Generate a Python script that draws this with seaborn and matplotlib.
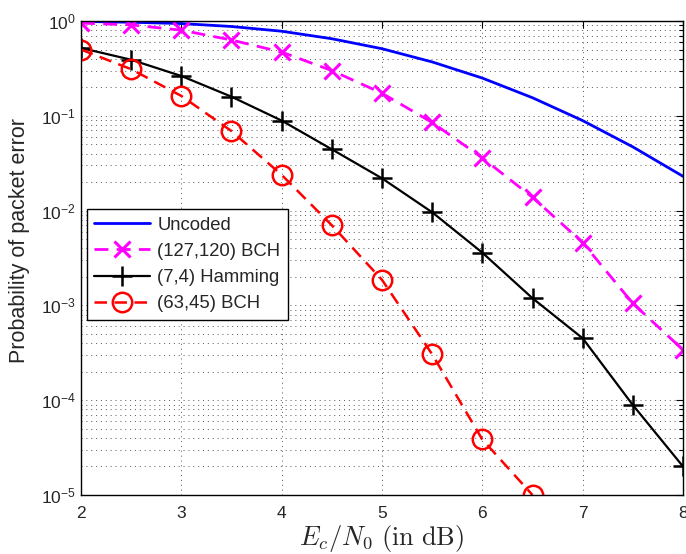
import numpy as np
import pandas as pd
import matplotlib
matplotlib.use("Agg")
import matplotlib.pyplot as plt
import matplotlib.ticker as mticker
import seaborn as sns

# ---- data ----
ebn0 = [2.0, 2.5, 3.0, 3.5, 4.0, 4.5, 5.0, 5.5, 6.0, 6.5, 7.0, 7.5, 8.0]
uncoded = [0.99, 0.97, 0.94, 0.875, 0.78, 0.65, 0.51, 0.37, 0.25, 0.155, 0.089, 0.047, 0.023]
bch127 = [0.95, 0.91, 0.80, 0.63, 0.47, 0.30, 0.173, 0.085, 0.036, 0.0138, 0.0046, 0.00105, 0.00034]
hamming = [0.52, 0.39, 0.263, 0.159, 0.089, 0.0443, 0.0219, 0.0096, 0.0036, 0.00119, 0.00045, 0.000089, 0.00002]
ebn0_63 = [2.0, 2.5, 3.0, 3.5, 4.0, 4.5, 5.0, 5.5, 6.0, 6.5]
bch63 = [0.50, 0.31, 0.162, 0.069, 0.0238, 0.0070, 0.00186, 0.000305, 0.0000385, 0.0000100]
labels = ["Uncoded", "(127,120) BCH", "(7,4) Hamming", "(63,45) BCH"]

sns.set_theme(style="white")
plt.rcParams["font.family"] = ["Liberation Sans", "DejaVu Sans"]
plt.rcParams["mathtext.fontset"] = "custom"
plt.rcParams["mathtext.rm"] = "Liberation Sans"
plt.rcParams["mathtext.it"] = "Liberation Sans:italic"

fig = plt.figure(figsize=(6.86, 5.54), dpi=100)
ax = fig.add_axes([81 / 686, 1 - 495 / 554, 602 / 686, 474 / 554])

df_main = pd.DataFrame({"x": ebn0, "Uncoded": uncoded, "BCH127": bch127, "Hamming": hamming})
df_63 = pd.DataFrame({"x": ebn0_63, "BCH63": bch63})

sns.lineplot(data=df_main, x="x", y="Uncoded", ax=ax, color="#0000ff", lw=2,
             label=labels[0], errorbar=None)
sns.lineplot(data=df_main, x="x", y="BCH127", ax=ax, color="#ff00ff", lw=2,
             linestyle=(0, (5, 3)), marker="x", markersize=11, markeredgewidth=2.2,
             markeredgecolor="#ff00ff",
             label=labels[1], errorbar=None)
sns.lineplot(data=df_main, x="x", y="Hamming", ax=ax, color="black", lw=1.6,
             marker="+", markersize=15, markeredgewidth=1.8, markeredgecolor="black",
             label=labels[2], errorbar=None)
sns.lineplot(data=df_63, x="x", y="BCH63", ax=ax, color="#ff0000", lw=1.8,
             linestyle=(0, (5, 3)), marker="o", markersize=14, markeredgewidth=1.8,
             markerfacecolor="none", markeredgecolor="#ff0000",
             label=labels[3], errorbar=None)

ax.set_yscale("log")
ax.set_xlim(2, 8)
ax.set_ylim(1e-5, 1)
ax.xaxis.set_major_locator(mticker.MultipleLocator(1))
ax.yaxis.set_major_locator(mticker.LogLocator(base=10, numticks=10))
ax.yaxis.set_minor_locator(mticker.LogLocator(base=10, subs=np.arange(2, 10), numticks=100))
ax.yaxis.set_minor_formatter(mticker.NullFormatter())

ax.grid(True, which="major", axis="both", linestyle=(0, (1, 4)), color="#555555", lw=0.7)
ax.grid(True, which="minor", axis="y", linestyle=(0, (1, 4)), color="#555555", lw=0.7)
ax.tick_params(which="both", direction="in", top=True, right=True, labelsize=12.5,
               length=5, width=0.8, color="black")
ax.tick_params(which="minor", length=3)
ax.tick_params(axis="x", which="major", pad=8)
for s in ax.spines.values():
    s.set_color("black")
    s.set_linewidth(1.0)

ax.set_xlabel(r"$E_c/N_0\ \mathrm{(in\ dB)}$", fontsize=19, math_fontfamily="cm", labelpad=1)
ax.set_ylabel("Probability of packet error", fontsize=15.5)
ax.yaxis.set_label_coords(-0.084, 0.536)

leg = ax.legend(loc="upper left", bbox_to_anchor=(0.01, 0.603), borderaxespad=0,
                fontsize=13.3, frameon=True, fancybox=False, edgecolor="black",
                framealpha=1, handlelength=3.0, borderpad=0.4, labelspacing=0.5,
                handletextpad=0.4)
leg.get_frame().set_linewidth(1.0)

fig.savefig("out.png", dpi=100)
